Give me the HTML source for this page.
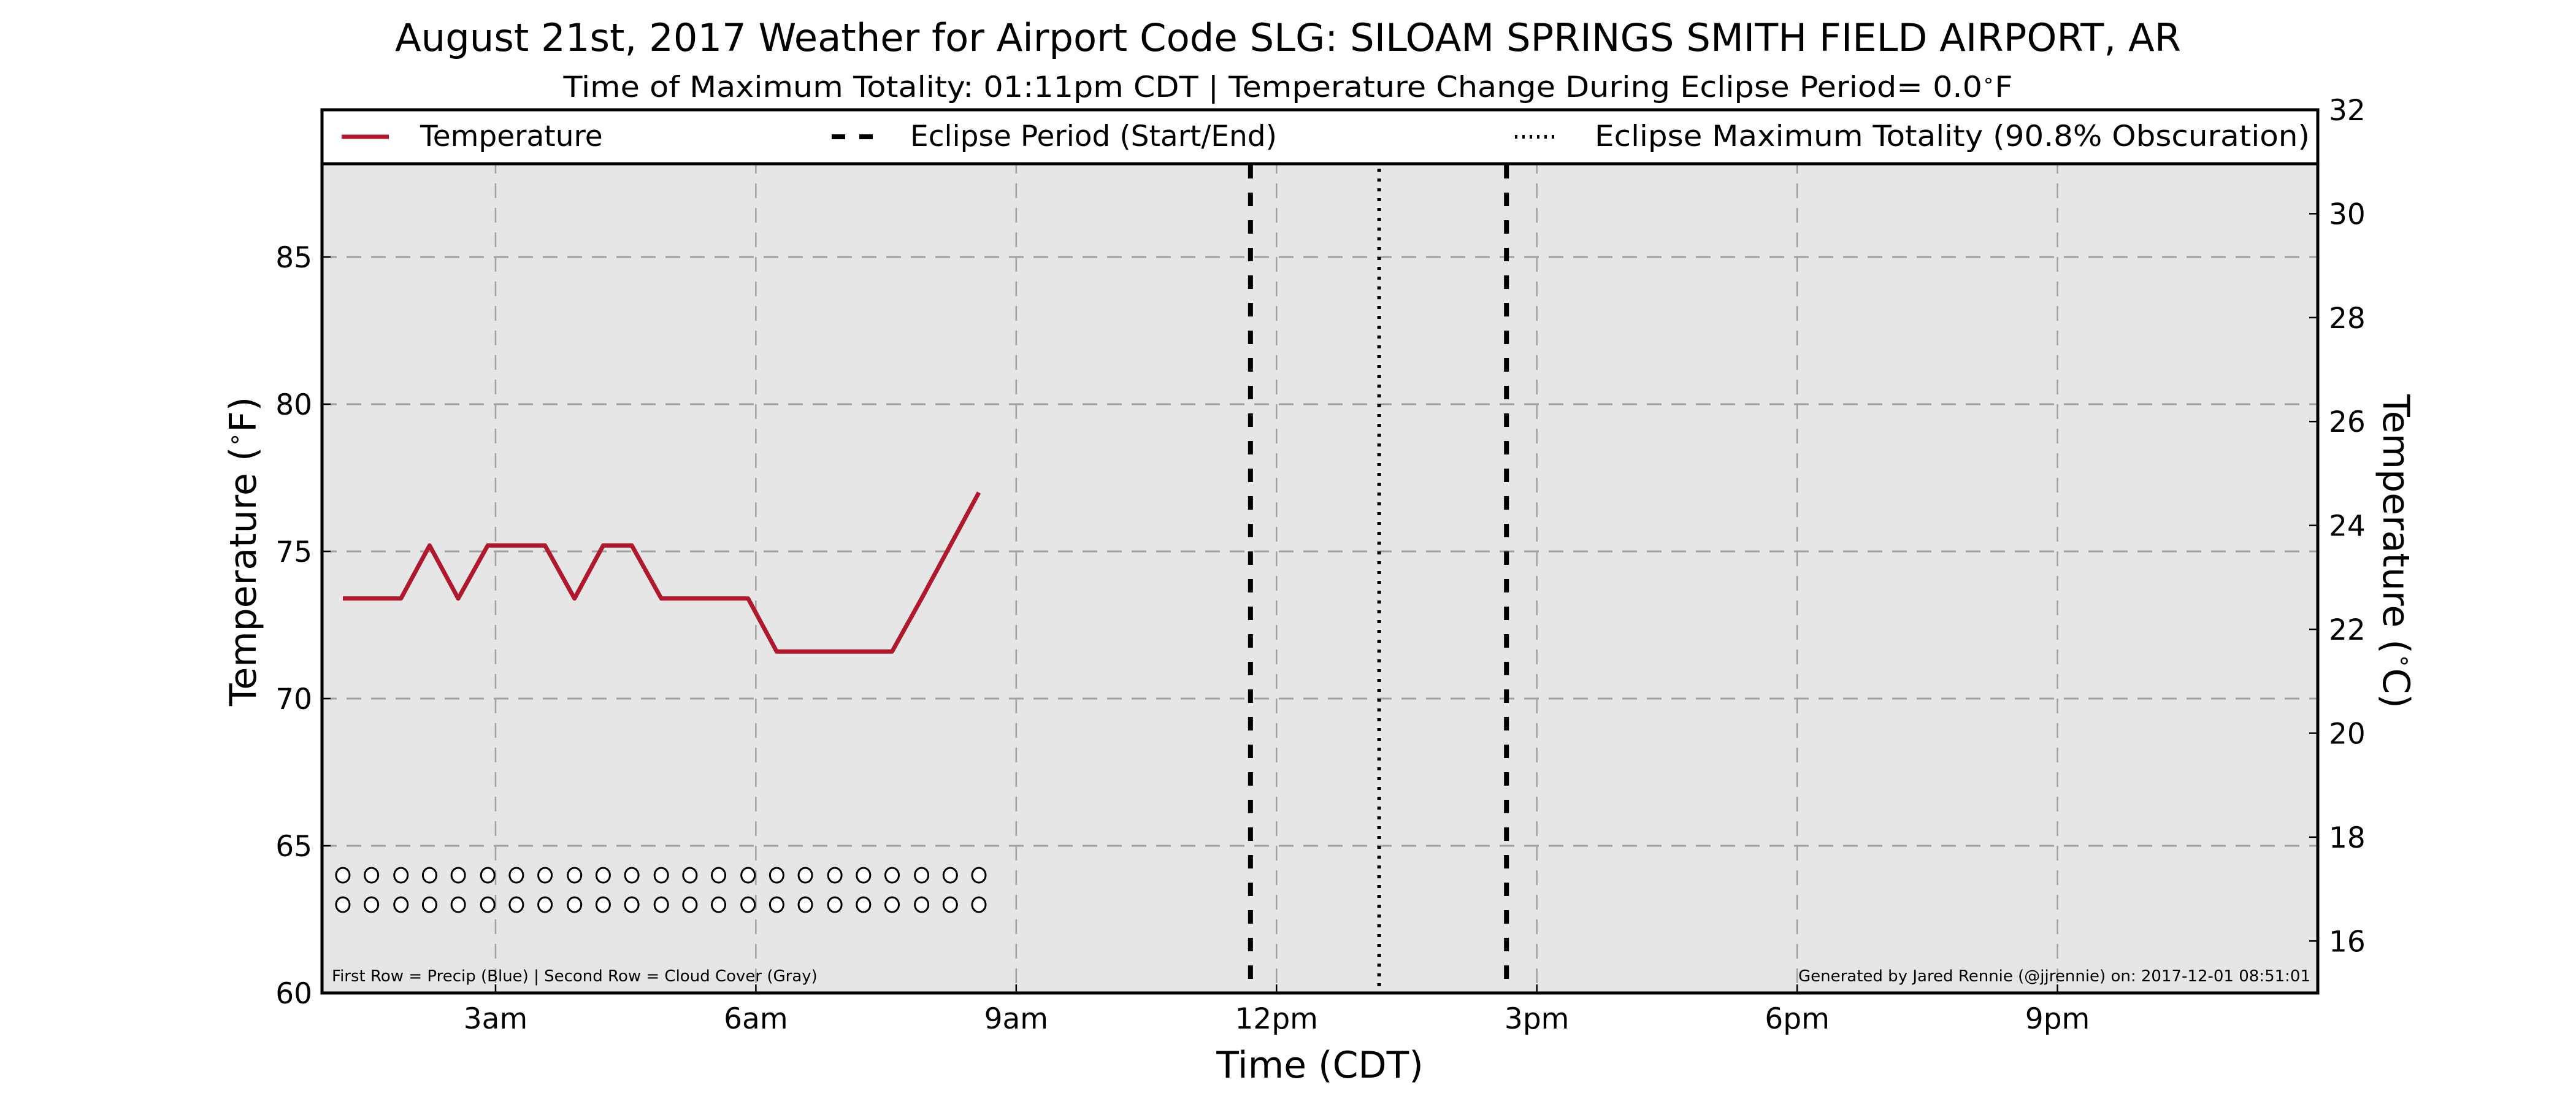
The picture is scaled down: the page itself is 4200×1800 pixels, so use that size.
<!DOCTYPE html>
<html><head><meta charset="utf-8"><style>
html,body{margin:0;padding:0;background:#fff;}
svg{display:block;font-family:"DejaVu Sans","Liberation Sans",sans-serif;}
</style></head><body>
<svg id="chart" width="4200" height="1800" viewBox="0 0 4200 1800" xmlns="http://www.w3.org/2000/svg">
<text x="2100" y="83" font-size="62" text-anchor="middle" textLength="2912" lengthAdjust="spacingAndGlyphs">August 21st, 2017 Weather for Airport Code SLG: SILOAM SPRINGS SMITH FIELD AIRPORT, AR</text>
<text x="2100" y="158" font-size="47" text-anchor="middle" textLength="2363" lengthAdjust="spacingAndGlyphs">Time of Maximum Totality: 01:11pm CDT | Temperature Change During Eclipse Period= 0.0<tspan baseline-shift="super" font-size="30">∘</tspan>F</text>
<rect x="525" y="179" width="3254" height="1440" fill="#e6e6e6"/>
<g id="grid"></g>
<g id="marks"></g>
<g id="axes"></g>
<rect x="525" y="179" width="3254" height="88" fill="#fff" stroke="#000" stroke-width="5"/>
<g>
<line x1="557" y1="223" x2="634" y2="223" stroke="#b0182e" stroke-width="7"/>
<text x="685" y="238" font-size="47">Temperature</text></g>
<g>
<line x1="1356" y1="223" x2="1425" y2="223" stroke="#000" stroke-width="8" stroke-dasharray="22,23"/>
<text x="1484" y="238" font-size="47">Eclipse Period (Start/End)</text></g>
<g>
<line x1="2470" y1="223" x2="2540" y2="223" stroke="#000" stroke-width="6" stroke-dasharray="4,8"/>
<text x="3766" y="238" font-size="47" text-anchor="end" textLength="1166" lengthAdjust="spacingAndGlyphs">Eclipse Maximum Totality (90.8% Obscuration)</text></g>
<rect x="525" y="179" width="3254" height="1440" fill="none" stroke="#000" stroke-width="5"/>
<text x="541" y="1600" font-size="26">First Row = Precip (Blue) | Second Row = Cloud Cover (Gray)</text>
<text x="3767" y="1600" font-size="26" text-anchor="end">Generated by Jared Rennie (@jjrennie) on: 2017-12-01 08:51:01</text>
<text x="2152" y="1757" font-size="60" text-anchor="middle">Time (CDT)</text>
<text transform="translate(417,899) rotate(-90)" font-size="60" text-anchor="middle">Temperature (<tspan baseline-shift="super" font-size="38">∘</tspan>F)</text>
<text transform="translate(3886,899) rotate(90)" font-size="60" text-anchor="middle">Temperature (<tspan baseline-shift="super" font-size="38">∘</tspan>C)</text>
</svg>
<script>
const hours = [1.24,1.57,1.91,2.24,2.57,2.91,3.24,3.57,3.91,4.24,4.57,4.91,5.24,5.57,5.91,6.24,6.57,6.91,7.24,7.57,7.91,8.24,8.57];
const tempF = [73.4,73.4,73.4,75.2,73.4,75.2,75.2,75.2,73.4,75.2,75.2,73.4,73.4,73.4,73.4,71.6,71.6,71.6,71.6,71.6,73.4,75.2,77.0];
const precipRowY = 64;
const cloudRowY = 63;
const eclipseStart = 11.7;
const eclipseMax = 13.183;
const eclipseEnd = 14.65;
const xTicks = [3,6,9,12,15,18,21];
const xTickLabels = ["3am","6am","9am","12pm","3pm","6pm","9pm"];
const yTicksF = [60,65,70,75,80,85];
const yTicksC = [16,18,20,22,24,26,28,30,32];

const NS = "http://www.w3.org/2000/svg";
const X0=525, X1=3779, Y0=1619, Y1=179;
const xDom=[1,24], fDom=[60,90], cDom=[15,32];
function xs(h){return X0+(h-xDom[0])/(xDom[1]-xDom[0])*(X1-X0);}
function yF(v){return Y0-(v-fDom[0])/(fDom[1]-fDom[0])*(Y0-Y1);}
function yC(v){return Y0-(v-cDom[0])/(cDom[1]-cDom[0])*(Y0-Y1);}
function mk(tag, attrs, parent){const e=document.createElementNS(NS,tag);for(const k in attrs)e.setAttribute(k,attrs[k]);parent.appendChild(e);return e;}
const grid=document.getElementById('grid'), marks=document.getElementById('marks'), axes=document.getElementById('axes');

xTicks.forEach((t,i)=>{
  const x=xs(t);
  const g=mk('line',{x1:x,y1:Y1,x2:x,y2:Y0,stroke:'#a0a0a0','stroke-width':2.5,'stroke-dasharray':'24,16'},grid);
  
  
  const tk=mk('line',{x1:x,y1:Y0,x2:x,y2:Y0-14,stroke:'#000','stroke-width':2.5},axes);
  
  
  const tl=mk('text',{x:x,y:1677,'font-size':47,'text-anchor':'middle'},axes);
  tl.textContent=xTickLabels[i];
  
  
});
yTicksF.forEach(t=>{
  const y=yF(t);
  const g=mk('line',{x1:X0,y1:y,x2:X1,y2:y,stroke:'#a0a0a0','stroke-width':3,'stroke-dasharray':'24,16'},grid);
  
  
  const tk=mk('line',{x1:X0,y1:y,x2:X0+14,y2:y,stroke:'#000','stroke-width':2.5},axes);
  
  
  const tl=mk('text',{x:509,y:y+17,'font-size':47,'text-anchor':'end'},axes);
  tl.textContent=t;
  
  
});
yTicksC.forEach(t=>{
  const y=yC(t);
  const tk=mk('line',{x1:X1,y1:y,x2:X1-14,y2:y,stroke:'#000','stroke-width':2.5},axes);
  
  
  const tl=mk('text',{x:3797,y:y+17,'font-size':47,'text-anchor':'start'},axes);
  tl.textContent=t;
  
  
});
[[eclipseStart,'eclipse-start-line','22,23',8],[eclipseEnd,'eclipse-end-line','22,23',8],[eclipseMax,'eclipse-max-line','5,11',6]].forEach(d=>{
  const x=xs(d[0]);
  const l=mk('line',{x1:x,y1:Y1,x2:x,y2:Y0,stroke:'#000','stroke-width':d[3],'stroke-dasharray':d[2]},marks);
  
  
});
const pts=hours.map((h,i)=>xs(h).toFixed(1)+','+yF(tempF[i]).toFixed(1)).join(' ');
const pl=mk('polyline',{points:pts,fill:'none',stroke:'#b0182e','stroke-width':7,'stroke-linejoin':'round'},marks);


hours.forEach(h=>{
  [[precipRowY,'precip-marker'],[cloudRowY,'cloud-marker']].forEach(r=>{
    const c=mk('ellipse',{cx:xs(h),cy:yF(r[0]),rx:11,ry:12,fill:'#fff',stroke:'#000','stroke-width':3},marks);
    
    
  });
});
</script>
</body></html>
